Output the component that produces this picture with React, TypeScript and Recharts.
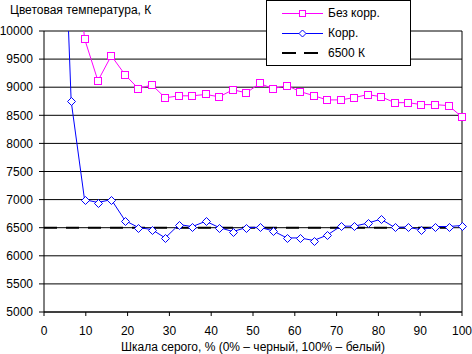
import React from 'react'
import {
  LineChart,
  Line,
  XAxis,
  YAxis,
  CartesianGrid,
  ReferenceLine,
  Legend,
} from 'recharts'

// Шкала серого, % (точки измерений)
const grayLevels = [
  3.2, 6.5, 9.7, 12.9, 16.1, 19.4, 22.6, 25.8, 29.0, 32.3, 35.5, 38.7, 41.9, 45.2, 48.4, 51.6,
  54.8, 58.1, 61.3, 64.5, 67.7, 71.0, 74.2, 77.4, 80.6, 83.9, 87.1, 90.3, 93.5, 96.8, 100,
]

// Без коррекции, K
const uncorrected: (number | null)[] = [
  null, 12500, 9863, 9114, 9560, 9221, 8972, 9043, 8811, 8847, 8847, 8871, 8829, 8954, 8900, 9066,
  8975, 9029, 8922, 8850, 8774, 8774, 8815, 8868, 8832, 8725, 8725, 8690, 8690, 8672, 8470,
]

// С коррекцией, K
const corrected: (number | null)[] = [
  15300, 8752, 7000, 6948, 7000, 6627, 6503, 6467, 6318, 6556, 6520, 6615, 6503, 6431, 6503, 6508,
  6443, 6318, 6318, 6272, 6366, 6527, 6527, 6580, 6652, 6504, 6509, 6461, 6521, 6521, 6539,
]

// Эталон 6500 K
const refX = [0, 100]
const refTemp = 6500

const xTicks = [0, 10, 20, 30, 40, 50, 60, 70, 80, 90, 100]
const yTicks = [5000, 5500, 6000, 6500, 7000, 7500, 8000, 8500, 9000, 9500, 10000]

const MAGENTA = '#ff00ff'
const BLUE = '#0000ff'
const FONT = '"Liberation Sans", Arial, sans-serif'

const rows = [
  ...refX.filter(x => !grayLevels.includes(x)).map(x => ({ x, raw: null, corr: null, ref: refTemp })),
  ...grayLevels.map((x, i) => ({
    x,
    raw: uncorrected[i],
    corr: corrected[i],
    ref: refX.includes(x) ? refTemp : null,
  })),
]

const SquareDot = (p: any) => {
  if (p.cx == null || p.cy == null || p.value == null) return <g key={p.index} />
  return (
    <rect key={p.index} x={Math.round(p.cx) - 3.5} y={Math.round(p.cy) - 3.5} width={7} height={7}
      fill="#fff" stroke={MAGENTA} strokeWidth={1} />
  )
}

const DiamondDot = (p: any) => {
  if (p.cx == null || p.cy == null || p.value == null) return <g key={p.index} />
  const x = Math.round(p.cx) + 0.5
  const y = Math.round(p.cy) + 0.5
  return (
    <path key={p.index} d={`M${x} ${y - 4}L${x + 4} ${y}L${x} ${y + 4}L${x - 4} ${y}Z`}
      fill="#fff" stroke={BLUE} strokeWidth={1} />
  )
}

const LegendBox = () => {
  const item = (label: string, sample: React.ReactNode) => (
    <div style={{ display: 'flex', alignItems: 'center', height: 20 }}>
      <svg width={46} height={12} style={{ display: 'block' }}>{sample}</svg>
      <span>{label}</span>
    </div>
  )
  return (
    <div style={{
      border: '1px solid #000', background: '#fff', width: 128, height: 62,
      boxSizing: 'content-box', padding: '2px 0 0 15px', fontFamily: FONT, fontSize: 12, color: '#000',
      marginLeft: -15,
    }}>
      {item('Без корр.', <>
        <line x1={0} x2={41} y1={6.5} y2={6.5} stroke={MAGENTA} />
        <rect x={17.5} y={3.5} width={6} height={6} fill="#fff" stroke={MAGENTA} />
      </>)}
      {item('Корр.', <>
        <line x1={0} x2={41} y1={6.5} y2={6.5} stroke={BLUE} />
        <path d="M20.5 3L24 6.5L20.5 10L17 6.5Z" fill="#fff" stroke={BLUE} />
      </>)}
      {item('6500 К', <line x1={0} x2={41} y1={6} y2={6} stroke="#000" strokeWidth={2} strokeDasharray="14 8" />)}
    </div>
  )
}

export default function App() {
  return (
    <div style={{ position: 'absolute', left: 0, top: 0, width: 472, height: 354, background: '#fff', fontFamily: FONT }}>
      <div style={{ position: 'absolute', left: 10, top: 3, fontSize: 12, color: '#000', whiteSpace: 'nowrap' }}>
        Цветовая температура, К
      </div>
      <LineChart
        width={472}
        height={354}
        data={rows}
        margin={{ top: 31, right: 10, left: 0, bottom: 0 }}
      >
        <CartesianGrid vertical={false} stroke="#000" strokeDasharray="" />
        <XAxis
          type="number"
          dataKey="x"
          domain={[0, 100]}
          ticks={xTicks}
          interval={0}
          height={42}
          tickSize={4}
          tickMargin={10}
          stroke="#000"
          tick={{ fontSize: 12, fill: '#000', fontFamily: FONT }}
          label={{ value: 'Шкала серого, % (0% – черный, 100% – белый)', position: 'insideBottom', offset: 3, fontSize: 12, fill: '#000', fontFamily: FONT }}
        />
        <YAxis
          type="number"
          domain={[5000, 10000]}
          ticks={yTicks}
          interval={0}
          allowDataOverflow
          width={44}
          tickSize={5}
          tickMargin={6}
          stroke="#000"
          tick={{ fontSize: 12, fill: '#000', fontFamily: FONT }}
        />
        <ReferenceLine x={100} stroke="#000" />
        <Line
          dataKey="ref"
          name="6500 К"
          stroke="#000"
          strokeWidth={2}
          strokeDasharray="13 9"
          dot={false}
          activeDot={false}
          connectNulls
          isAnimationActive={false}
        />
        <Line
          dataKey="raw"
          name="Без корр."
          stroke={MAGENTA}
          strokeWidth={1}
          dot={SquareDot}
          activeDot={false}
          isAnimationActive={false}
        />
        <Line
          dataKey="corr"
          name="Корр."
          stroke={BLUE}
          strokeWidth={1}
          dot={DiamondDot}
          activeDot={false}
          isAnimationActive={false}
        />
        <Legend
          layout="vertical"
          align="center"
          verticalAlign="middle"
          content={<LegendBox />}
          wrapperStyle={{ left: 281, top: 0, width: 130, height: 65 }}
        />
      </LineChart>
    </div>
  )
}
